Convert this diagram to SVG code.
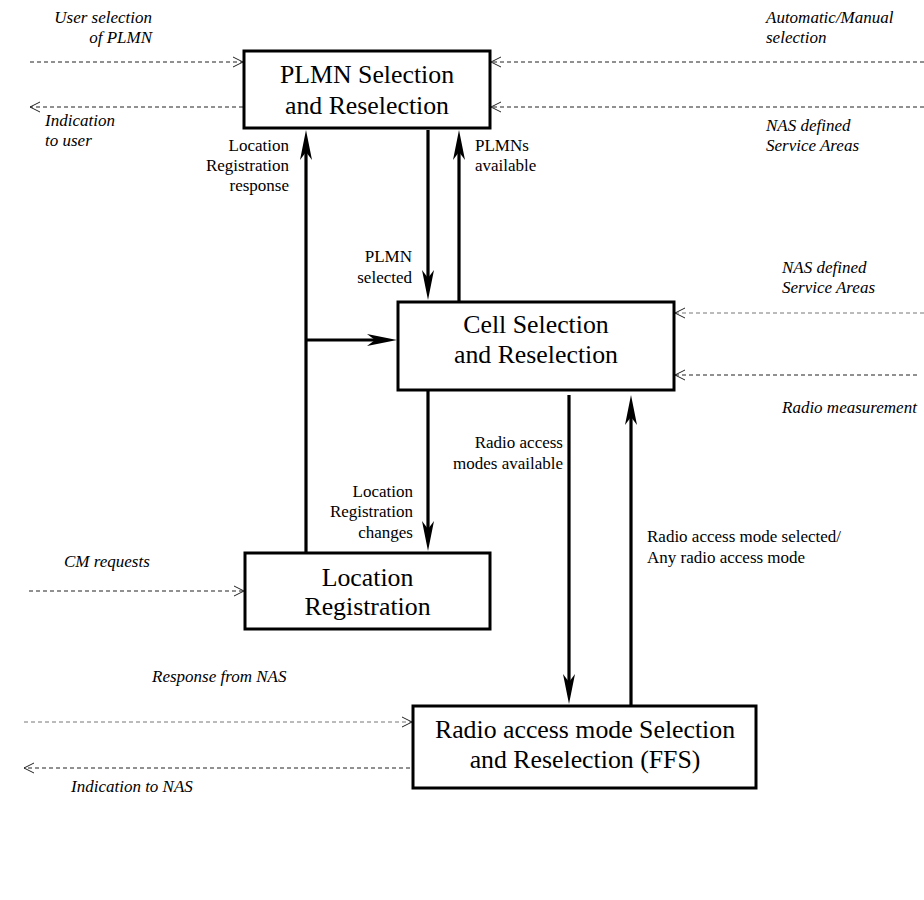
<svg xmlns="http://www.w3.org/2000/svg" width="924" height="900" viewBox="0 0 924 900">
<style>
  .box { fill: #fff; stroke: #000; stroke-width: 3; }
  .bt { font-family: "Liberation Serif", "Times New Roman", serif; font-size: 25.8px; fill: #000; text-anchor: middle; }
  .lb { font-family: "Liberation Serif", "Times New Roman", serif; font-size: 17px; fill: #000; }
  .it { font-style: italic; }
  .end { text-anchor: end; }
  .thick { fill: none; stroke: #000; stroke-width: 3.2; marker-end: url(#solid); }
  .dash { fill: none; stroke: #222; stroke-width: 1; stroke-dasharray: 4 3; marker-end: url(#open); }
  .dash.light { stroke: #777; }
</style>
<defs>
  <marker id="solid" markerUnits="userSpaceOnUse" markerWidth="32" markerHeight="14" viewBox="-31 -7 32 14" refX="-20" refY="0" orient="auto">
    <path d="M0,0 L-30,-6 L-22,0 L-30,6 Z" fill="#000" stroke="none"/>
  </marker>
  <marker id="open" markerUnits="userSpaceOnUse" markerWidth="14" markerHeight="14" viewBox="-12 -7 14 14" refX="0" refY="0" orient="auto">
    <path d="M-10,-5 L0,0 L-10,5" fill="none" stroke="#222" stroke-width="1" stroke-dasharray="none"/>
  </marker>
</defs>

<g id="connectors">
  <path class="dash" d="M30,62 H243"/>
  <path class="dash" d="M243,107 H30"/>
  <path class="dash" d="M924,62 H491"/>
  <path class="dash" d="M924,107 H491"/>
  <path class="dash light" d="M924,313 H675"/>
  <path class="dash" d="M917,375 H675"/>
  <path class="dash" d="M29,591 H244"/>
  <path class="dash light" d="M24,722 H412"/>
  <path class="dash" d="M410,768 H24"/>

  <path class="thick" d="M306,553 V150"/>
  <path class="thick" d="M428,130 V280"/>
  <path class="thick" d="M459,302 V150"/>
  <path class="thick" d="M306,340 H377"/>
  <path class="thick" d="M428,390 V531"/>
  <path class="thick" d="M569,395 V684"/>
  <path class="thick" d="M631,706 V415"/>
</g>

<g id="plmn">
  <rect class="box" x="244" y="51" width="246" height="77"/>
  <text class="bt" x="367" y="83">PLMN Selection</text>
  <text class="bt" x="367" y="114">and Reselection</text>
</g>
<g id="cell">
  <rect class="box" x="398" y="302" width="276" height="88"/>
  <text class="bt" x="536" y="333">Cell Selection</text>
  <text class="bt" x="536" y="363">and Reselection</text>
</g>
<g id="locreg">
  <rect class="box" x="245" y="553" width="245" height="76"/>
  <text class="bt" x="367.5" y="586">Location</text>
  <text class="bt" x="367.5" y="615">Registration</text>
</g>
<g id="ramode">
  <rect class="box" x="413" y="706" width="343" height="82"/>
  <text class="bt" x="585" y="738">Radio access mode Selection</text>
  <text class="bt" x="585" y="768">and Reselection (FFS)</text>
</g>

<g id="labels">
  <text class="lb it end" x="152" y="23">User selection</text>
  <text class="lb it end" x="152" y="43">of PLMN</text>
  <text class="lb it" x="45" y="126">Indication</text>
  <text class="lb it" x="45" y="146">to user</text>
  <text class="lb it" x="766" y="23">Automatic/Manual</text>
  <text class="lb it" x="766" y="43">selection</text>
  <text class="lb it" x="766" y="131">NAS defined</text>
  <text class="lb it" x="766" y="151">Service Areas</text>
  <text class="lb it" x="782" y="273">NAS defined</text>
  <text class="lb it" x="782" y="293">Service Areas</text>
  <text class="lb it" x="782" y="413">Radio measurement</text>
  <text class="lb it" x="64" y="567">CM requests</text>
  <text class="lb it" x="152" y="682">Response from NAS</text>
  <text class="lb it" x="71" y="792">Indication to NAS</text>

  <text class="lb end" x="289" y="151">Location</text>
  <text class="lb end" x="289" y="171">Registration</text>
  <text class="lb end" x="289" y="191">response</text>
  <text class="lb end" x="412" y="262">PLMN</text>
  <text class="lb end" x="412" y="283">selected</text>
  <text class="lb" x="475" y="151">PLMNs</text>
  <text class="lb" x="475" y="171">available</text>
  <text class="lb end" x="563" y="448">Radio access</text>
  <text class="lb end" x="563" y="469">modes available</text>
  <text class="lb end" x="413" y="497">Location</text>
  <text class="lb end" x="413" y="517">Registration</text>
  <text class="lb end" x="413" y="538">changes</text>
  <text class="lb" x="647" y="542">Radio access mode selected/</text>
  <text class="lb" x="647" y="563">Any radio access mode</text>
</g>
</svg>
